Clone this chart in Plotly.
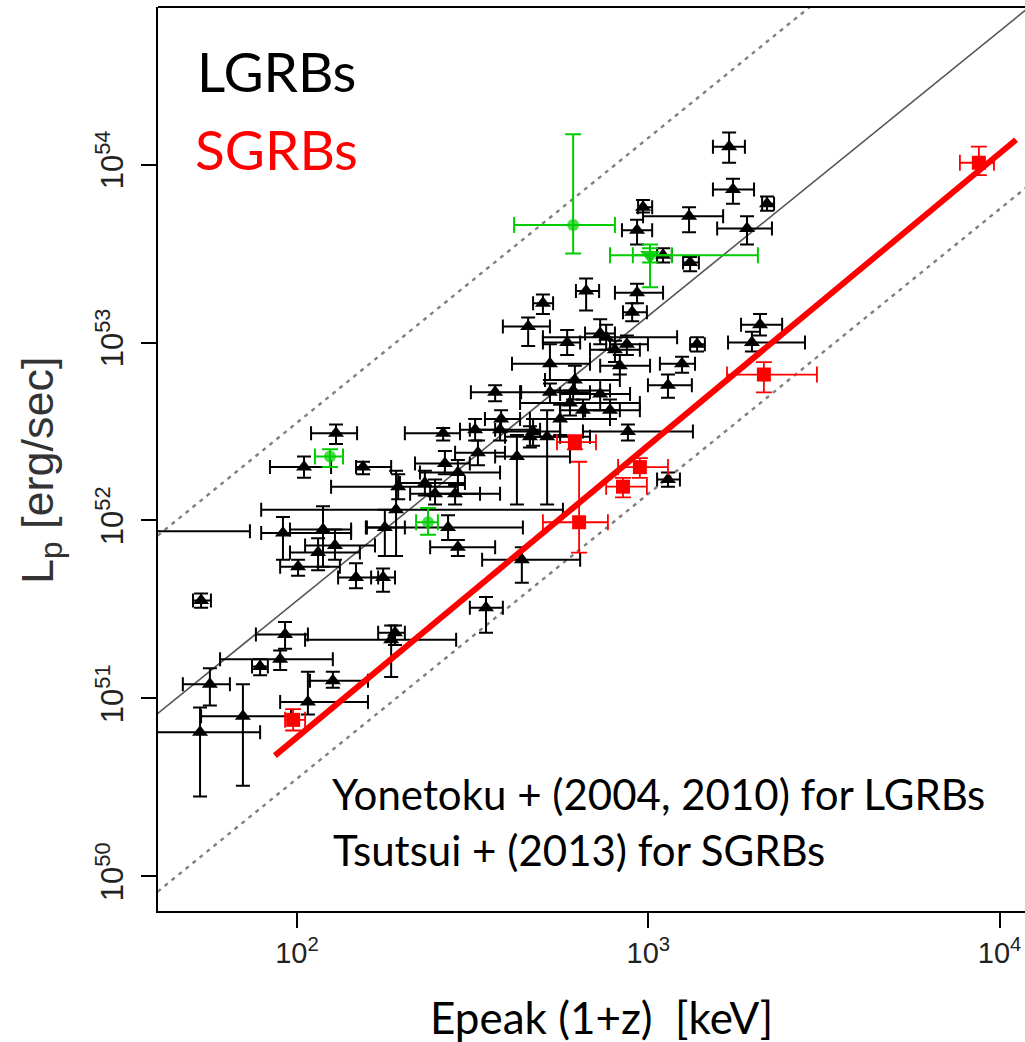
import numpy as np
import plotly.graph_objects as go

# ---------------------------------------------------------------------------
# Long GRBs: log10 Epeak(1+z) [keV] and log10 Lp [erg/s], each with the
# lower / upper ends of its error bar (also log10)
# ---------------------------------------------------------------------------
lgrb_log_ep = [3.230, 3.241, 3.338, 2.985, 3.116, 3.281, 2.968, 3.119, 3.042, 2.823,
               2.968, 2.700, 2.954, 2.658, 3.318, 2.863, 3.295, 3.139, 2.939, 3.096,
               3.056, 2.720, 2.880, 2.777, 2.672, 2.626, 2.942, 2.791, 2.863, 2.749,
               2.891, 2.640, 2.578, 2.720, 2.786, 2.814, 2.663, 2.712, 2.905, 2.919,
               2.769, 3.056, 2.564, 2.111, 2.416, 2.507, 2.581, 2.515, 2.020, 2.188,
               2.421, 2.458, 2.288, 2.364, 2.393, 2.450, 2.282, 2.250, 2.430, 2.458,
               1.960, 1.582, 2.074, 2.108, 2.060, 2.003, 2.168, 2.245, 1.727, 2.538,
               1.966, 1.952, 1.895, 1.752, 1.846, 1.724, 2.031, 2.102, 2.268, 2.279]
lgrb_log_ep_lo = [3.184, 3.184, 3.324, 2.971, 2.985, 3.196, 2.925, 3.099, 3.025, 2.794,
                  2.905, 2.672, 2.928, 2.586, 3.264, 2.820, 3.227, 3.119, 2.891, 3.033,
                  2.999, 2.612, 2.700, 2.635, 2.578, 2.564, 2.814, 2.706, 2.749, 2.663,
                  2.820, 2.527, 2.492, 2.635, 2.720, 2.749, 2.592, 2.663, 2.834, 2.863,
                  2.700, 3.025, 2.495, 2.040, 2.307, 2.464, 2.535, 2.450, 1.923, 2.168,
                  2.336, 2.350, 2.097, 2.293, 2.322, 2.379, 1.898, 2.196, 2.199, 2.379,
                  1.898, 1.400, 1.980, 2.023, 1.980, 1.952, 2.117, 2.211, 1.704, 2.492,
                  1.883, 1.781, 1.872, 1.675, 1.727, 1.550, 1.952, 2.037, 2.023, 2.231]
lgrb_log_ep_hi = [3.275, 3.301, 3.358, 3.011, 3.213, 3.352, 3.011, 3.144, 3.067, 2.860,
                  3.042, 2.729, 2.996, 2.720, 3.381, 2.905, 3.446, 3.161, 2.999, 3.133,
                  3.124, 2.834, 3.082, 2.976, 2.749, 2.777, 3.127, 2.919, 2.948, 2.891,
                  2.976, 2.806, 2.692, 2.834, 2.891, 2.919, 2.749, 2.834, 2.976, 3.005,
                  2.806, 3.090, 2.638, 2.171, 2.464, 2.564, 2.635, 2.592, 2.097, 2.268,
                  2.492, 2.578, 2.458, 2.478, 2.521, 2.578, 2.757, 2.307, 2.643, 2.564,
                  2.154, 1.866, 2.154, 2.222, 2.179, 2.122, 2.231, 2.279, 1.755, 2.586,
                  2.031, 2.102, 1.917, 1.809, 1.983, 1.895, 2.202, 2.202, 2.453, 2.307]
lgrb_log_lp = [54.10, 53.86, 53.78, 53.76, 53.71, 53.64, 53.63, 53.45, 53.49, 53.29,
               53.28, 53.22, 53.17, 53.09, 53.10, 53.05, 53.00, 52.99, 52.99, 52.88,
               52.76, 52.88, 53.03, 52.66, 52.50, 52.36, 52.50, 52.79, 52.71, 52.57,
               52.62, 51.78, 52.51, 52.72, 52.73, 52.62, 52.47, 52.47, 52.96, 52.87,
               53.00, 52.23, 52.72, 52.49, 52.49, 52.51, 52.57, 52.38, 52.30, 52.30,
               52.32, 52.27, 52.19, 52.21, 52.15, 52.15, 52.06, 51.96, 51.96, 51.85,
               51.93, 51.94, 51.95, 51.86, 51.82, 51.74, 51.68, 51.68, 51.55, 51.51,
               51.36, 51.22, 51.18, 51.08, 50.90, 50.81, 50.98, 51.10, 51.33, 51.37]
lgrb_log_lp_lo = [54.01, 53.78, 53.74, 53.73, 53.62, 53.55, 53.55, 53.40, 53.45, 53.18,
                  53.22, 53.16, 53.12, 52.98, 53.04, 52.99, 52.95, 52.95, 52.93, 52.83,
                  52.69, 52.79, 52.96, 52.59, 52.42, 52.09, 52.45, 52.71, 52.62, 52.48,
                  52.57, 51.65, 52.45, 52.66, 52.68, 52.57, 52.41, 52.09, 52.89, 52.82,
                  52.93, 52.19, 52.67, 52.43, 52.45, 52.45, 52.51, 52.31, 52.24, 52.26,
                  52.26, 52.20, 52.12, 52.14, 52.09, 52.09, 51.80, 51.80, 51.89, 51.80,
                  51.78, 51.90, 51.74, 51.78, 51.72, 51.69, 51.62, 51.60, 51.51, 51.37,
                  51.28, 51.16, 51.13, 50.96, 50.51, 50.45, 50.91, 51.06, 51.12, 51.30]
lgrb_log_lp_hi = [54.18, 53.92, 53.82, 53.80, 53.76, 53.71, 53.69, 53.48, 53.53, 53.36,
                  53.33, 53.27, 53.22, 53.14, 53.16, 53.13, 53.06, 53.03, 53.04, 52.92,
                  52.82, 52.99, 53.10, 52.73, 52.57, 52.48, 52.54, 52.87, 52.79, 52.65,
                  52.68, 51.85, 52.57, 52.77, 52.79, 52.68, 52.53, 52.62, 53.01, 52.93,
                  53.07, 52.27, 52.76, 52.54, 52.52, 52.57, 52.62, 52.45, 52.36, 52.33,
                  52.39, 52.34, 52.26, 52.28, 52.23, 52.20, 52.28, 52.06, 52.03, 51.89,
                  52.02, 51.97, 52.08, 51.95, 51.90, 51.78, 51.76, 51.73, 51.59, 51.57,
                  51.43, 51.27, 51.22, 51.17, 51.08, 50.95, 51.15, 51.15, 51.41, 51.41]

# Highlighted long GRBs (green)
green_log_ep    = [2.786, 3.005, 3.005, 2.094, 2.373]
green_log_ep_lo = [2.618, 2.891, 2.956, 2.051, 2.339]
green_log_ep_hi = [2.905, 3.312, 3.067, 2.131, 2.401]
green_log_lp    = [53.66, 53.49, 53.49, 52.36, 51.99]
green_log_lp_lo = [53.50, 53.31, 53.45, 52.30, 51.92]
green_log_lp_hi = [54.17, 53.55, 53.53, 52.40, 52.07]
green_symbols   = ["circle", "triangle-down", "triangle-down", "circle", "circle"]

# Short GRBs (Tsutsui et al.)
sgrb_log_ep    = [3.941, 3.329, 2.791, 2.976, 2.928, 2.803, 1.989]
sgrb_log_ep_lo = [3.887, 3.224, 2.740, 2.914, 2.880, 2.700, 1.966]
sgrb_log_ep_hi = [3.984, 3.480, 2.851, 3.056, 2.996, 2.885, 2.023]
sgrb_log_lp    = [54.01, 52.82, 52.44, 52.30, 52.19, 51.99, 50.88]
sgrb_log_lp_lo = [53.94, 52.72, 52.40, 52.24, 52.13, 51.82, 50.82]
sgrb_log_lp_hi = [54.10, 52.89, 52.48, 52.35, 52.24, 52.33, 50.94]

# Ep-Lp relations: log Lp = norm + slope * log(Ep / pivot)
lgrb_fit = dict(norm=52.43, slope=1.60, pivot=355.0)
lgrb_band_dex = 1.0
sgrb_fit = dict(norm=52.24, slope=1.64, pivot=774.5)
sgrb_fit_ep_span = [86.5, 11140.0]

x_range_log = [1.6043, 4.0723]
y_range_log = [49.806, 54.885]
x_tickvals = [1e2, 1e3, 1e4]
x_ticktext = ["10<sup>2</sup>", "10<sup>3</sup>", "10<sup>4</sup>"]
y_tickvals = [1e50, 1e51, 1e52, 1e53, 1e54]
y_ticktext = ["10<sup>50</sup>", "10<sup>51</sup>", "10<sup>52</sup>",
              "10<sup>53</sup>", "10<sup>54</sup>"]


def with_errors(v, lo, hi):
    v, lo, hi = (np.asarray(a, dtype=float) for a in (v, lo, hi))
    c = 10.0 ** v
    return c, 10.0 ** hi - c, c - 10.0 ** lo


def relation(fit, ep):
    ep = np.asarray(ep, dtype=float)
    return 10.0 ** (fit["norm"] + fit["slope"] * np.log10(ep / fit["pivot"]))


fig = go.Figure()

# Yonetoku relation and its +-1 dex band, across the whole axis
ep_line = 10.0 ** np.array([x_range_log[0] - 0.2, x_range_log[1] + 0.2])
fig.add_trace(go.Scatter(x=ep_line, y=relation(lgrb_fit, ep_line), mode="lines",
                         line=dict(color="#555555", width=1.6), hoverinfo="skip"))
for sgn in (1, -1):
    fig.add_trace(go.Scatter(x=ep_line,
                             y=relation(lgrb_fit, ep_line) * 10.0 ** (sgn * lgrb_band_dex),
                             mode="lines",
                             line=dict(color="#808080", width=2.4, dash="4px,5px"),
                             hoverinfo="skip"))


def add_points(log_ep, ep_lo, ep_hi, log_lp, lp_lo, lp_hi, color, symbol, size, cap, thick):
    x, xp, xm = with_errors(log_ep, ep_lo, ep_hi)
    y, yp, ym = with_errors(log_lp, lp_lo, lp_hi)
    fig.add_trace(go.Scatter(
        x=x, y=y, mode="markers",
        marker=dict(symbol=symbol, size=size, color=color, line=dict(width=0)),
        error_x=dict(type="data", symmetric=False, array=xp, arrayminus=xm,
                     color=color, thickness=thick, width=cap),
        error_y=dict(type="data", symmetric=False, array=yp, arrayminus=ym,
                     color=color, thickness=thick, width=cap),
    ))


add_points(lgrb_log_ep, lgrb_log_ep_lo, lgrb_log_ep_hi,
           lgrb_log_lp, lgrb_log_lp_lo, lgrb_log_lp_hi,
           "black", "triangle-up", 14, 7, 2)
add_points(green_log_ep, green_log_ep_lo, green_log_ep_hi,
           green_log_lp, green_log_lp_lo, green_log_lp_hi,
           "#00CD00", green_symbols, [12, 17, 17, 12, 12], 8, 2)
add_points(sgrb_log_ep, sgrb_log_ep_lo, sgrb_log_ep_hi,
           sgrb_log_lp, sgrb_log_lp_lo, sgrb_log_lp_hi,
           "#FF0000", "square", 14, 8, 1.8)

# Tsutsui relation for short GRBs
fig.add_trace(go.Scatter(x=sgrb_fit_ep_span, y=relation(sgrb_fit, sgrb_fit_ep_span),
                         mode="lines", line=dict(color="#FF0000", width=6),
                         hoverinfo="skip"))

calibri_like = "Lato, 'Open Sans', sans-serif"
annotations = [
    dict(text="LGRBs", x=0.0427, y=0.929, font=dict(size=55, color="black")),
    dict(text="SGRBs", x=0.0404, y=0.8427, font=dict(size=55, color="#FF0000")),
    dict(text="Yonetoku + (2004, 2010) for LGRBs", x=0.1984, y=0.1295,
         font=dict(size=42, color="black")),
    dict(text="Tsutsui + (2013) for SGRBs", x=0.1995, y=0.0670,
         font=dict(size=42, color="black")),
]
for a in annotations:
    a["font"]["family"] = calibri_like
    fig.add_annotation(xref="paper", yref="paper", xanchor="left", yanchor="middle",
                       showarrow=False, **a)

fig.add_annotation(text="Epeak (1+z)  [keV]", xref="paper", yref="paper",
                   x=0.511, y=-0.1175, xanchor="center", yanchor="middle",
                   showarrow=False, font=dict(family=calibri_like, size=44, color="black"))
fig.add_annotation(text="L<sub>p</sub> [erg/sec]", xref="paper", yref="paper",
                   x=-0.1361, y=0.4878, xanchor="center", yanchor="middle",
                   textangle=-90, showarrow=False,
                   font=dict(family="'Liberation Sans', Arial, sans-serif", size=45,
                             color="#333333"))

# top edge of the frame
fig.add_shape(type="line", xref="paper", yref="paper", x0=0, x1=1, y0=1, y1=1,
              line=dict(color="black", width=2))

axis_font = dict(family="'Liberation Sans', Arial, sans-serif", color="#222222")
fig.update_layout(
    width=1025, height=1042,
    margin=dict(l=158, r=0, t=7, b=131),
    paper_bgcolor="white", plot_bgcolor="white",
    showlegend=False,
    xaxis=dict(type="log", range=x_range_log, showgrid=False, zeroline=False,
               showline=True, linecolor="black", linewidth=2,
               ticks="outside", ticklen=15, tickwidth=1.5, tickcolor="black",
               tickvals=x_tickvals, ticktext=x_ticktext,
               tickfont=dict(size=29, **axis_font)),
    yaxis=dict(type="log", range=y_range_log, showgrid=False, zeroline=False,
               showline=True, linecolor="black", linewidth=2,
               ticks="outside", ticklen=15, tickwidth=1.5, tickcolor="black",
               tickvals=y_tickvals, ticktext=y_ticktext, tickangle=-90,
               ticklabelstandoff=6,
               tickfont=dict(size=31, **axis_font)),
)

fig.write_html("out.html")
